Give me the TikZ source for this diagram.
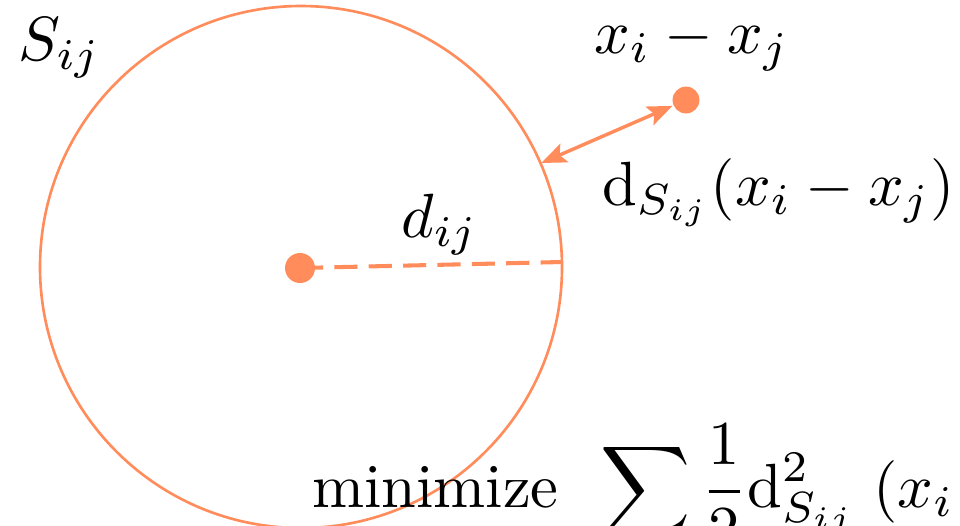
\documentclass[tikz,border=0pt]{standalone}
\usepackage{amsmath}
\usetikzlibrary{arrows.meta, calc}
\definecolor{setorange}{RGB}{255,140,90}

\begin{document}
\begin{tikzpicture}[
  x=0.16pt, y=-0.16pt,
  >={Stealth[length=4pt, width=3.2pt, inset=0.8pt]},
  dot/.style={circle, fill=setorange, inner sep=0pt, minimum size=#1},
  lbl/.style={inner sep=0pt, anchor=base west},
  link/.style={draw=setorange, line width=0.55pt}
]
\useasboundingbox (0,0) rectangle (960,525);
\clip (0,0) rectangle (960,525);

% the set and its center
\node[dot=4.8pt] (c) at (300,268) {};
\draw[setorange, line width=0.42pt] (301,267) circle (261);

% the point outside
\node[dot=4.3pt] (p) at (686,100) {};
\coordinate (rim) at ($(c)!0.625!(p)$);
\coordinate (east) at (562,262);

\draw[link, <->] (p) -- (rim);
\draw[link, line width=0.65pt, dash pattern=on 3.7pt off 1.8pt] (c.center) -- (east);

% labels
\node[lbl] (sij) at (17,60) {$S_{ij}$};
\node[lbl] (xdiff) at (593,53) {$x_i - x_j$};
\node[lbl] (dist) at (601,205) {$\mathrm{d}_{S_{ij}}(x_i - x_j)$};
\node[lbl] (dij) at (400,237) {$d_{ij}$};
\node[lbl] (obj) at (311,507) {$\text{minimize}\ \,\displaystyle\sum \frac{1}{2}\mathrm{d}^2_{S_{ij}}\;(x_i - x_j)$};

\end{tikzpicture}
\end{document}
